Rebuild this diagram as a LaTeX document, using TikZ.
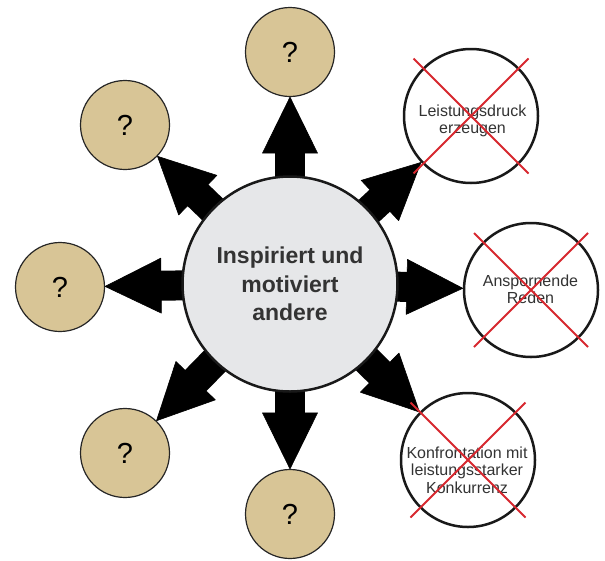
\documentclass[tikz,border=0pt]{standalone}
\usepackage{fontspec}
\setmainfont{Liberation Sans}
\usetikzlibrary{calc,backgrounds}
\definecolor{qtan}{HTML}{D8C596}
\definecolor{hubgray}{HTML}{E6E7E9}
\definecolor{xred}{HTML}{D7282F}
\definecolor{txtgray}{HTML}{333333}
\begin{document}
\begin{tikzpicture}[x=1pt,y=-1pt,
  qcircle/.style={circle,draw=black!85,line width=1.2pt,fill=qtan,minimum size=89pt,inner sep=0pt,font=\fontsize{29}{30}\selectfont},
  xcircle/.style={circle,draw=black!90,line width=2.5pt,fill=white,minimum size=134pt,inner sep=0pt},
  xtext/.style={align=center,inner sep=0pt,text=txtgray,font=\fontsize{16}{17.5}\selectfont},
  hub/.style={circle,draw=black!90,line width=2.5pt,fill=hubgray,minimum size=215pt,inner sep=0pt,align=center,text=txtgray,font=\bfseries\fontsize{23}{28.5}\selectfont},
  headfill/.style={fill=black,draw=black,line width=0.6pt,line join=round},
  shaftfill/.style={fill=black,draw=none},
  crossout/.style={draw=xred,line width=2pt}]
\useasboundingbox (0,0) rectangle (605,560);
\node[hub] (c) at (290,284) {Inspiriert und\\motiviert\\andere};
\node[qcircle] (q1) at (290,52) {?};
\node[qcircle] (q2) at (125,125) {?};
\node[qcircle] (q3) at (60,287) {?};
\node[qcircle] (q4) at (125,453) {?};
\node[qcircle] (q5) at (290,514) {?};
\node[xcircle] (r1) at (471,116) {};
\node[xcircle] (r2) at (531,290) {};
\node[xcircle] (r3) at (468,460) {};
\node[xtext] (t1) at (472.5,121) {Leistungsdruck\\erzeugen};
\node[xtext] (t2) at (530.5,289.5) {Anspornende\\Reden};
\node[xtext] (t3) at (467,470) {Konfrontation mit\\leistungsstarker\\Konkurrenz};
\draw[crossout] (r1.center) ++(-57.5,-57.5) -- ++(115,115);
\draw[crossout] (r1.center) ++(57.5,-57.5) -- ++(-115,115);
\draw[crossout] (r2.center) ++(-57,-57) -- ++(114,114);
\draw[crossout] (r2.center) ++(57,-57) -- ++(-114,114);
\draw[crossout] (r3.center) ++(-57.5,-57.5) -- ++(115,115);
\draw[crossout] (r3.center) ++(57.5,-57.5) -- ++(-115,115);
\begin{scope}[on background layer]
\foreach \n in {q1,q2,q3,q4,q5,r1,r2,r3}{
  \path (c.center) -- (\n) coordinate[pos=1] (tip-\n);
  \coordinate (base-\n) at ($(tip-\n)!56pt!(c.center)$);
  \coordinate (inner-\n) at ($(tip-\n)!40pt!(c.center)$);
  \fill[shaftfill]
    ($(c.center)!15pt!90:(tip-\n)$) --
    ($(inner-\n)!15pt!-90:(c.center)$) --
    ($(inner-\n)!15pt!90:(c.center)$) --
    ($(c.center)!15pt!-90:(tip-\n)$) -- cycle;
  \filldraw[headfill]
    ($(base-\n)!27.5pt!-90:(c.center)$) --
    (tip-\n) --
    ($(base-\n)!27.5pt!90:(c.center)$) -- cycle;
}
\end{scope}
\end{tikzpicture}
\end{document}
